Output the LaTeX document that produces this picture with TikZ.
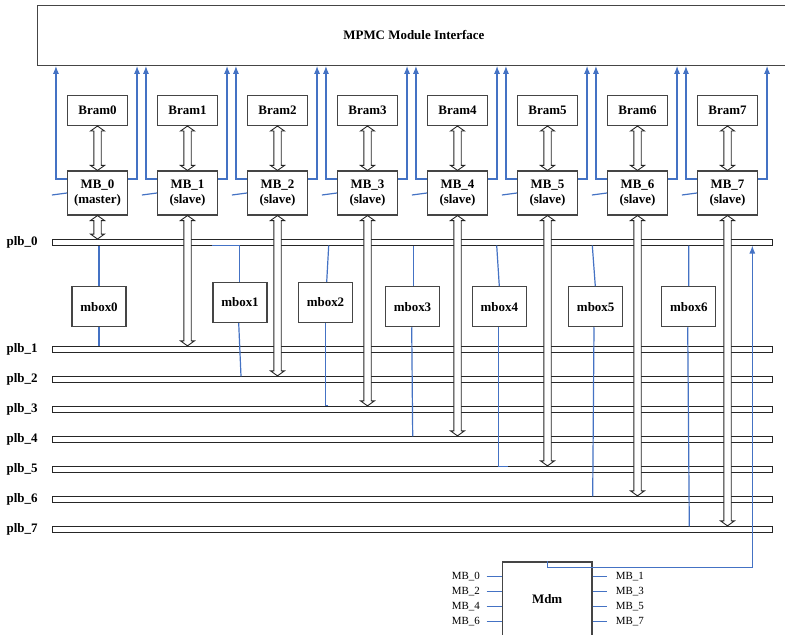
\documentclass[tikz,border=0pt]{standalone}
\usepackage{fontspec}
\setmainfont{Liberation Serif}
\usetikzlibrary{arrows.meta,calc}
\definecolor{bl}{HTML}{4472C4}
\definecolor{bx}{HTML}{454545}
\tikzset{
 box/.style={draw=bx,line width=1.1bp,fill=white,inner sep=0pt,font=\fontsize{13}{14.5}\selectfont\bfseries,align=center},
 bar/.style={draw=black!85,line width=0.9bp,fill=white,minimum width=720.2bp,minimum height=6bp,inner sep=0pt},
 bline/.style={draw=bl,line width=1.2bp},
 barr/.style={bline,-{Latex[length=8bp,width=6bp]}},
 hol/.style={draw=black!85,line width=0.9bp,fill=white},
 lab/.style={font=\fontsize{13}{15}\selectfont\bfseries,inner sep=0pt},
 small/.style={font=\fontsize{11}{13}\selectfont,inner sep=0pt},
}
\newcommand\dblarr[2]{%
 \filldraw[hol] let \p1=(#1), \p2=(#2) in
 (\x1,\y1) -- (\x1+7bp,\y1-5bp) -- (\x1+3.7bp,\y1-5bp) -- (\x1+3.7bp,\y2+5bp) -- (\x1+7bp,\y2+5bp) -- (\x1,\y2)
 -- (\x1-7bp,\y2+5bp) -- (\x1-3.7bp,\y2+5bp) -- (\x1-3.7bp,\y1-5bp) -- (\x1-7bp,\y1-5bp) -- cycle;}
\begin{document}
\begin{tikzpicture}[x=1bp,y=-1bp]
\useasboundingbox (0,0) rectangle (785,635);
\clip (0,0) rectangle (785,635);
\fill[white] (0,0) rectangle (785,635);
% top interface
\node[box,minimum width=752.3bp,minimum height=59.6bp] (mpmc) at (413.85,35.5) {MPMC Module Interface};
% brams and microblazes
\foreach \k/\r in {0/master,1/slave,2/slave,3/slave,4/slave,5/slave,6/slave,7/slave}{
  \node[box,minimum width=60bp,minimum height=30bp] (bram\k) at ({97.5+90*\k},110.5) {Bram\k};
  \node[box,minimum width=60bp,minimum height=44bp] (mb\k) at ({97.5+90*\k},193) {MB\_\k\\(\r)};
}
% buses
\node[bar] (plb0) at (412.4,242.5) {};
\foreach \k in {1,...,7}{
  \node[bar] (plb\k) at (412.4,{349.3+30*(\k-1)}) {};
}
\foreach \k in {0,...,7}{
  \node[lab,anchor=east] (pl\k) at ([xshift=-14bp]plb\k.west) {plb\_\k};
}
% hollow double arrows
\foreach \k in {0,...,7}{
  \dblarr{bram\k.south}{mb\k.north}
  \dblarr{mb\k.south}{plb\k.north}
}
% blue lines to interface
\foreach \k in {0,...,7}{
  \coordinate (L\k) at ([xshift=-11bp,yshift=-8.5bp]mb\k.north west);
  \coordinate (R\k) at ([xshift=9bp,yshift=-8.5bp]mb\k.north east);
  \draw[barr] ([yshift=-8.5bp]mb\k.north west) -- (L\k) -- (L\k |- mpmc.south);
  \draw[barr] ([yshift=-8.5bp]mb\k.north east) -- (R\k) -- (R\k |- mpmc.south);
  \draw[bline] ([xshift=-15bp,yshift=-2bp]mb\k.west) -- (mb\k.west);
}
% mailboxes
\node[box,minimum width=54bp,minimum height=40bp] (mbox0) at (99,306.7) {mbox0};
\node[box,minimum width=54bp,minimum height=40bp] (mbox1) at (240,302.5) {mbox1};
\node[box,minimum width=54bp,minimum height=40bp] (mbox2) at (325.5,302.5) {mbox2};
\node[box,minimum width=54bp,minimum height=40bp] (mbox3) at (412.5,306.7) {mbox3};
\node[box,minimum width=54bp,minimum height=40bp] (mbox4) at (499.3,306.7) {mbox4};
\node[box,minimum width=54bp,minimum height=40bp] (mbox5) at (595.7,306.7) {mbox5};
\node[box,minimum width=54bp,minimum height=40bp] (mbox6) at (688.8,306.7) {mbox6};
\coordinate (m0t) at (99,245.5);    \coordinate (m0b) at (99,346.3);
\coordinate (m1t) at (239.3,245.5); \coordinate (m1u) at (211.7,245.5); \coordinate (m1b) at (241,376.3);
\coordinate (m2t) at (328.7,245.5); \coordinate (m2b) at (325.1,405.8); \coordinate (m2c) at (328.3,405.8);
\coordinate (m3t) at (413.3,245.5); \coordinate (m3b) at (412.7,436.3);
\coordinate (m4t) at (496.7,245.5); \coordinate (m4b) at (498.3,466.3); \coordinate (m4c) at (508.3,466.3);
\coordinate (m5t) at (592.3,245.5); \coordinate (m5b) at (592.7,496.3);
\coordinate (m6t) at (688.7,245.5); \coordinate (m6b) at (689.3,526.3);
\draw[bline] (mbox0.north) -- (m0t);
\draw[bline] (mbox0.south) -- (m0b);
\draw[bline] ([xshift=-0.7bp]mbox1.north) -- (m1t) -- (m1u);
\draw[bline] ([xshift=-1.3bp]mbox1.south) -- (m1b);
\draw[bline] ([xshift=1.2bp]mbox2.north) -- (m2t);
\draw[bline] ([xshift=-0.4bp]mbox2.south) -- (m2b) -- (m2c);
\draw[bline] ([xshift=0.8bp]mbox3.north) -- (m3t);
\draw[bline] ([xshift=-0.8bp]mbox3.south) -- (m3b);
\draw[bline] (mbox4.north) -- (m4t);
\draw[bline] ([xshift=-1bp]mbox4.south) -- (m4b) -- (m4c);
\draw[bline] ([xshift=-0.4bp]mbox5.north) -- (m5t);
\draw[bline] ([xshift=-1.7bp]mbox5.south) -- (m5b);
\draw[bline] ([xshift=-0.1bp]mbox6.north) -- (m6t);
\draw[bline] ([xshift=-1.1bp]mbox6.south) -- (m6b);
% debug module
\node[box,minimum width=89.7bp,minimum height=74.6bp] (mdm) at (547.15,599.3) {Mdm};
\foreach \t/\y in {0/576.8,2/591.8,4/606.8,6/621.2}{
  \node[small,anchor=east] (ml\t) at (480,\y) {MB\_\t};
  \draw[bline] ([xshift=6.7bp]ml\t.east) -- (ml\t.east -| mdm.west);
}
\foreach \t/\y in {1/576.8,3/591.8,5/606.8,7/621.2}{
  \node[small,anchor=west] (mr\t) at (615.7,\y) {MB\_\t};
  \draw[bline] (mr\t.west -| mdm.east) -- ([xshift=-8.4bp]mr\t.west);
}
\coordinate (up) at (752.3,245.5);
\draw[barr] (mdm.north) -- ++(0,6.3) -| (up);
\end{tikzpicture}
\end{document}
